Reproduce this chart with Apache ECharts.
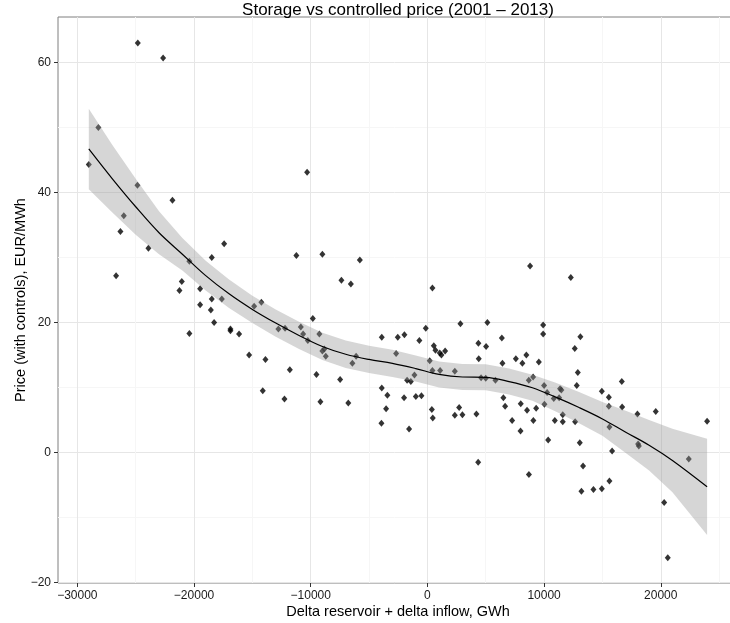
<!DOCTYPE html>
<html>
<head>
<meta charset="utf-8">
<script src="https://cdn.jsdelivr.net/npm/echarts@6.0.0/dist/echarts.min.js"></script>
<style>
  html, body { margin: 0; padding: 0; background: #fff; }
  #chart { width: 730px; height: 623px; }
</style>
</head>
<body>
<div id="chart"></div>
<script>
// scatter points: delta storage (GWh) vs price (EUR/MWh)
const ptX = [
  -29020, -28200, -26680, -26310, -26020, -24850, -24820, -23910, -22650, -21850,
  -21250, -21050, -20400, -20400, -19480, -19480, -18560, -18480, -18480, -18280,
  -17620, -17420, -16880, -16880, -16140, -15280, -14850, -14230, -14110, -13880,
  -12770, -12250, -12200, -11790, -11230, -10850, -10650, -10310, -10250, -9820,
  -9510, -9260, -9170, -9000, -9000, -8830, -8710, -7480, -7370, -6780,
  -6560, -6430, -6110, -5790, -3940, -3910, -3910, -3540, -3430, -2680,
  -2540, -2000, -1970, -1740, -1570, -1420, -1110, -990, -690, -510,
  -140, 200, 380, 430, 430, 460, 550, 690, 1060, 1090,
  1200, 1520, 2350, 2350, 2720, 2830, 3000, 4200, 4350, 4370,
  4400, 4600, 5000, 5030, 5140, 5830, 6380, 6430, 6510, 6660,
  7260, 7580, 7980, 8000, 8140, 8480, 8540, 8690, 8700, 8800,
  9060, 9080, 9320, 9550, 9920, 9920, 10000, 10030, 10260, 10350,
  10830, 10920, 11290, 11370, 11480, 11600, 11600, 12290, 12630, 12660,
  12800, 12890, 13060, 13110, 13200, 13340, 14230, 14950, 14950, 15550,
  15550, 15600, 15600, 15830, 16660, 16690, 18000, 18060, 18120, 19570,
  20290, 20600, 22400, 23970
];
const ptY = [
  44.3, 50.0, 27.2, 34.0, 36.4, 41.1, 63.0, 31.4, 60.7, 38.8,
  24.9, 26.3, 29.4, 18.3, 25.2, 22.7, 21.9, 30.0, 23.6, 20.0,
  23.6, 32.1, 19.0, 18.7, 18.2, 15.0, 22.5, 23.1, 9.5, 14.3,
  19.0, 8.2, 19.1, 12.7, 30.3, 19.3, 18.2, 43.1, 17.2, 20.6,
  12.0, 18.2, 7.8, 30.5, 15.6, 15.9, 14.8, 11.2, 26.5, 7.6,
  25.9, 13.7, 14.8, 29.6, 4.5, 17.7, 9.9, 6.7, 8.8, 15.2,
  17.7, 8.4, 18.1, 11.1, 3.6, 10.9, 11.9, 8.6, 17.2, 8.7,
  19.1, 14.1, 6.6, 25.3, 12.6, 5.3, 16.4, 15.7, 15.3, 12.6,
  15.0, 15.6, 12.5, 5.7, 6.9, 19.8, 5.8, 5.9, -1.5, 16.8,
  14.4, 11.5, 11.4, 16.3, 20.0, 11.1, 17.6, 13.7, 8.4, 7.1,
  4.9, 14.4, 3.3, 7.5, 13.7, 15.0, 6.5, 11.1, -3.4, 28.7,
  11.6, 4.9, 6.8, 13.9, 19.6, 18.2, 10.3, 7.4, 9.2, 1.9,
  8.3, 4.9, 8.4, 9.8, 9.6, 5.8, 4.7, 26.9, 16.0, 4.7,
  10.3, 12.3, 1.5, 17.8, -6.0, -2.1, -5.7, -5.6, 9.4, 8.5,
  7.1, -4.4, 3.9, 0.2, 10.9, 7.0, 5.9, 1.3, 1.0, 6.3,
  -7.7, -16.2, -1.0, 4.8
];

// loess fit with its confidence band
const fitX = [-29020, -27000, -25000, -23000, -21000, -19000, -17000, -15000, -13000, -11000,
  -9000, -7000, -5000, -3000, -1000, 1000, 3000, 5000, 7000, 9000,
  11000, 13000, 15000, 17000, 19000, 21000, 23970];
const fitY = [46.7, 42.1, 37.8, 33.8, 30.5, 27.2, 24.4, 22.0, 19.9, 18.0,
  16.3, 15.1, 14.3, 13.7, 12.9, 12.0, 11.6, 11.55, 10.9, 9.95,
  8.5, 6.9, 5.15, 3.1, 1.1, -1.25, -5.3];
const fitLo = [40.5, 36.9, 33.5, 30.5, 28.0, 24.9, 22.2, 19.9, 17.8, 15.9,
  14.2, 13.0, 12.2, 11.6, 10.9, 10.0, 9.6, 9.55, 8.9, 7.95,
  6.3, 4.5, 2.55, -0.1, -2.8, -6.15, -12.7];
const fitHi = [52.9, 47.3, 42.1, 37.1, 33.0, 29.5, 26.6, 24.1, 22.0, 20.1,
  18.4, 17.2, 16.4, 15.8, 14.9, 14.0, 13.6, 13.55, 12.9, 11.95,
  10.7, 9.3, 7.75, 6.4, 5.0, 3.65, 2.1];

const xTicks = [-30000, -20000, -10000, 0, 10000, 20000];
const xMinor = [-25000, -15000, -5000, 5000, 15000, 25000];
const yTicks = [-20, 0, 20, 40, 60];
const yMinor = [-10, 10, 30, 50];

const X_MIN = -31659, X_MAX = 26619;
const Y_MIN = -20.1, Y_MAX = 67.0;

const fontFamily = '"Liberation Sans", Arial, sans-serif';
const minus = v => String(v).replace('-', '\u2212');

const chart = echarts.init(document.getElementById('chart'));

const option = {
  animation: false,
  textStyle: { fontFamily: fontFamily },
  title: {
    text: 'Storage vs controlled price (2001 \u2013 2013)',
    left: 398,
    top: 2,
    padding: 0,
    textAlign: 'center',
    textStyle: { fontSize: 17, fontWeight: 'normal', color: '#000', fontFamily: fontFamily }
  },
  grid: {
    left: 58, top: 17, width: 680, height: 566,
    outerBoundsMode: 'none',
    containLabel: false,
    show: true, borderColor: '#7f7f7f', borderWidth: 1, backgroundColor: '#fff'
  },
  xAxis: [
    {
      type: 'value', min: X_MIN, max: X_MAX, position: 'bottom',
      name: 'Delta reservoir + delta inflow, GWh',
      nameLocation: 'middle', nameGap: 21, nameMoveOverlap: false,
      nameTextStyle: { fontSize: 14.5, color: '#000', fontFamily: fontFamily },
      axisLine: { show: false, onZero: false },
      axisTick: { show: true, length: 4, customValues: xTicks, lineStyle: { color: '#333' } },
      axisLabel: { customValues: xTicks, formatter: minus, fontSize: 12, color: '#1a1a1a', margin: 7 },
      splitLine: { show: true, lineStyle: { color: '#e6e6e6', width: 1 } }
    },
    {
      type: 'value', min: X_MIN, max: X_MAX, position: 'top',
      axisLine: { show: false, onZero: false },
      axisTick: { show: false, customValues: xMinor },
      axisLabel: { show: false, customValues: xMinor },
      splitLine: { show: true, lineStyle: { color: '#f6f6f6', width: 1 } }
    }
  ],
  yAxis: [
    {
      type: 'value', min: Y_MIN, max: Y_MAX, position: 'left',
      name: 'Price (with controls), EUR/MWh',
      nameLocation: 'middle', nameGap: 30, nameMoveOverlap: false,
      nameTextStyle: { fontSize: 14.5, color: '#000', fontFamily: fontFamily },
      axisLine: { show: false, onZero: false },
      axisTick: { show: true, length: 4, customValues: yTicks, lineStyle: { color: '#333' } },
      axisLabel: { customValues: yTicks, formatter: minus, fontSize: 12, color: '#1a1a1a', margin: 7 },
      splitLine: { show: true, lineStyle: { color: '#e6e6e6', width: 1 } }
    },
    {
      type: 'value', min: Y_MIN, max: Y_MAX, position: 'right',
      axisLine: { show: false, onZero: false },
      axisTick: { show: false, customValues: yMinor },
      axisLabel: { show: false, customValues: yMinor },
      splitLine: { show: true, lineStyle: { color: '#f6f6f6', width: 1 } }
    }
  ],
  series: [
    {
      type: 'scatter',
      xAxisIndex: 0, yAxisIndex: 0,
      symbol: 'diamond',
      symbolSize: [6, 7],
      itemStyle: { color: '#000' },
      data: ptX.map((x, i) => [x, ptY[i]]),
      z: 2,
      silent: true
    },
    {
      // confidence band, drawn over the points like geom_smooth
      type: 'custom',
      xAxisIndex: 0, yAxisIndex: 0,
      data: [[fitX[0], fitY[0]]],
      z: 3,
      silent: true,
      renderItem: function (params, api) {
        const pts = [];
        for (let i = 0; i < fitX.length; i++) pts.push(api.coord([fitX[i], fitHi[i]]));
        for (let i = fitX.length - 1; i >= 0; i--) pts.push(api.coord([fitX[i], fitLo[i]]));
        return {
          type: 'polygon',
          shape: { points: pts },
          style: { fill: 'rgba(153,153,153,0.4)', stroke: null }
        };
      }
    },
    {
      type: 'line',
      xAxisIndex: 0, yAxisIndex: 0,
      data: fitX.map((x, i) => [x, fitY[i]]),
      smooth: 0.35,
      showSymbol: false,
      lineStyle: { color: '#000', width: 1.2 },
      z: 4,
      silent: true
    }
  ]
};

chart.setOption(option);
</script>
</body>
</html>
